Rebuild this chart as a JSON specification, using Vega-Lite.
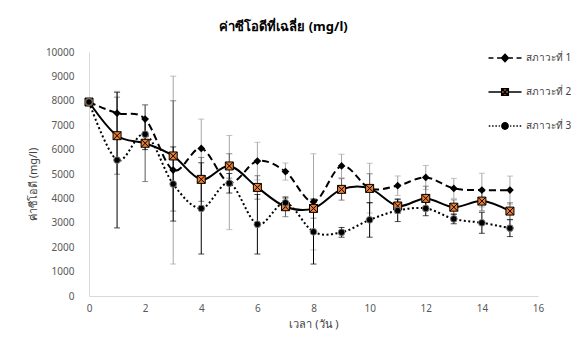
{
  "$schema": "https://vega.github.io/schema/vega-lite/v6.json",
  "width": 449,
  "height": 244,
  "autosize": {"type": "none"},
  "padding": {"left": 89, "top": 52, "right": 39, "bottom": 59},
  "title": {"text": "ค่าซีโอดีที่เฉลี่ย (mg/l)", "fontSize": 13, "fontWeight": "bold", "color": "#000000", "anchor": "middle", "dx": -30, "offset": 8},
  "config": {
    "font": "Noto Sans, DejaVu Sans, sans-serif",
    "view": {"stroke": null},
    "axis": {"grid": false, "ticks": false, "domainColor": "#d9d9d9", "domainWidth": 1, "labelColor": "#595959", "labelFontSize": 10, "labelFlush": false, "labelOverlap": false, "titleColor": "#404040", "titleFontSize": 11, "titleFontWeight": "normal"},
    "axisX": {"labelPadding": 7, "titleY": 28, "titleBaseline": "middle"},
    "axisY": {"labelPadding": 15, "titleX": -56, "titleY": 132, "titleBaseline": "middle", "titleAngle": -90, "titleAlign": "center", "format": "d"}
  },
  "datasets": {"d": [
    {"x": 0, "s": "สภาวะที่ 1", "y": 7950, "lo": 7950, "hi": 7950},
    {"x": 1, "s": "สภาวะที่ 1", "y": 7490, "lo": 6590, "hi": 8390},
    {"x": 2, "s": "สภาวะที่ 1", "y": 7250, "lo": 6660, "hi": 7840},
    {"x": 3, "s": "สภาวะที่ 1", "y": 5160, "lo": 1310, "hi": 9010},
    {"x": 4, "s": "สภาวะที่ 1", "y": 6050, "lo": 4850, "hi": 7250},
    {"x": 5, "s": "สภาวะที่ 1", "y": 4650, "lo": 2720, "hi": 6580},
    {"x": 6, "s": "สภาวะที่ 1", "y": 5530, "lo": 4760, "hi": 6300},
    {"x": 7, "s": "สภาวะที่ 1", "y": 5100, "lo": 4750, "hi": 5450},
    {"x": 8, "s": "สภาวะที่ 1", "y": 3860, "lo": 1890, "hi": 5830},
    {"x": 9, "s": "สภาวะที่ 1", "y": 5330, "lo": 4850, "hi": 5810},
    {"x": 10, "s": "สภาวะที่ 1", "y": 4420, "lo": 3400, "hi": 5440},
    {"x": 11, "s": "สภาวะที่ 1", "y": 4520, "lo": 4120, "hi": 4920},
    {"x": 12, "s": "สภาวะที่ 1", "y": 4860, "lo": 4370, "hi": 5350},
    {"x": 13, "s": "สภาวะที่ 1", "y": 4410, "lo": 4000, "hi": 4820},
    {"x": 14, "s": "สภาวะที่ 1", "y": 4340, "lo": 3650, "hi": 5030},
    {"x": 15, "s": "สภาวะที่ 1", "y": 4340, "lo": 3765, "hi": 4915},
    {"x": 0, "s": "สภาวะที่ 2", "y": 7950, "lo": 7950, "hi": 7950},
    {"x": 1, "s": "สภาวะที่ 2", "y": 6570, "lo": 4990, "hi": 8150},
    {"x": 2, "s": "สภาวะที่ 2", "y": 6260, "lo": 4690, "hi": 7830},
    {"x": 3, "s": "สภาวะที่ 2", "y": 5740, "lo": 3480, "hi": 8000},
    {"x": 4, "s": "สภาวะที่ 2", "y": 4780, "lo": 3880, "hi": 5680},
    {"x": 5, "s": "สภาวะที่ 2", "y": 5330, "lo": 4830, "hi": 5830},
    {"x": 6, "s": "สภาวะที่ 2", "y": 4450, "lo": 3970, "hi": 4930},
    {"x": 7, "s": "สภาวะที่ 2", "y": 3660, "lo": 3250, "hi": 4070},
    {"x": 8, "s": "สภาวะที่ 2", "y": 3590, "lo": 3190, "hi": 3990},
    {"x": 9, "s": "สภาวะที่ 2", "y": 4370, "lo": 3930, "hi": 4810},
    {"x": 10, "s": "สภาวะที่ 2", "y": 4410, "lo": 3810, "hi": 5010},
    {"x": 11, "s": "สภาวะที่ 2", "y": 3690, "lo": 3390, "hi": 3990},
    {"x": 12, "s": "สภาวะที่ 2", "y": 4000, "lo": 3500, "hi": 4500},
    {"x": 13, "s": "สภาวะที่ 2", "y": 3640, "lo": 3340, "hi": 3940},
    {"x": 14, "s": "สภาวะที่ 2", "y": 3890, "lo": 3490, "hi": 4290},
    {"x": 15, "s": "สภาวะที่ 2", "y": 3480, "lo": 3140, "hi": 3820},
    {"x": 0, "s": "สภาวะที่ 3", "y": 7950, "lo": 7950, "hi": 7950},
    {"x": 1, "s": "สภาวะที่ 3", "y": 5570, "lo": 2790, "hi": 8350},
    {"x": 2, "s": "สภาวะที่ 3", "y": 6630, "lo": 6000, "hi": 7260},
    {"x": 3, "s": "สภาวะที่ 3", "y": 4590, "lo": 3070, "hi": 6110},
    {"x": 4, "s": "สภาวะที่ 3", "y": 3590, "lo": 1720, "hi": 5460},
    {"x": 5, "s": "สภาวะที่ 3", "y": 4620, "lo": 4220, "hi": 5020},
    {"x": 6, "s": "สภาวะที่ 3", "y": 2940, "lo": 1720, "hi": 4160},
    {"x": 7, "s": "สภาวะที่ 3", "y": 3820, "lo": 3620, "hi": 4020},
    {"x": 8, "s": "สภาวะที่ 3", "y": 2630, "lo": 1310, "hi": 3950},
    {"x": 9, "s": "สภาวะที่ 3", "y": 2610, "lo": 2410, "hi": 2810},
    {"x": 10, "s": "สภาวะที่ 3", "y": 3120, "lo": 2410, "hi": 3830},
    {"x": 11, "s": "สภาวะที่ 3", "y": 3500, "lo": 3050, "hi": 3950},
    {"x": 12, "s": "สภาวะที่ 3", "y": 3590, "lo": 3290, "hi": 3890},
    {"x": 13, "s": "สภาวะที่ 3", "y": 3160, "lo": 2960, "hi": 3360},
    {"x": 14, "s": "สภาวะที่ 3", "y": 3000, "lo": 2570, "hi": 3430},
    {"x": 15, "s": "สภาวะที่ 3", "y": 2780, "lo": 2435, "hi": 3125}
  ]},
  "data": {"name": "d"},
  "encoding": {
    "x": {"field": "x", "type": "quantitative", "scale": {"domain": [0, 16], "nice": false, "zero": false},
          "axis": {"title": "เวลา (วัน )", "values": [0, 2, 4, 6, 8, 10, 12, 14, 16]}},
    "y": {"field": "y", "type": "quantitative", "scale": {"domain": [0, 10000], "nice": false},
          "axis": {"title": "ค่าซีโอดี (mg/l)", "values": [0, 1000, 2000, 3000, 4000, 5000, 6000, 7000, 8000, 9000, 10000]}}
  },
  "layer": [
    {
      "transform": [{"filter": "datum.s === 'สภาวะที่ 1'"}],
      "mark": {"type": "errorbar", "ticks": {"size": 6}, "rule": {"strokeWidth": 1}, "color": "#a6a6a6"},
      "encoding": {"y": {"field": "lo", "type": "quantitative", "title": "ค่าซีโอดี (mg/l)"}, "y2": {"field": "hi"}}
    },
    {
      "transform": [{"filter": "datum.s === 'สภาวะที่ 2'"}],
      "mark": {"type": "errorbar", "ticks": {"size": 6}, "rule": {"strokeWidth": 1}, "color": "#595959"},
      "encoding": {"y": {"field": "lo", "type": "quantitative", "title": "ค่าซีโอดี (mg/l)"}, "y2": {"field": "hi"}}
    },
    {
      "transform": [{"filter": "datum.s === 'สภาวะที่ 3'"}],
      "mark": {"type": "errorbar", "ticks": {"size": 6}, "rule": {"strokeWidth": 1}, "color": "#000000"},
      "encoding": {"y": {"field": "lo", "type": "quantitative", "title": "ค่าซีโอดี (mg/l)"}, "y2": {"field": "hi"}}
    },
    {
      "transform": [{"filter": "datum.s === 'สภาวะที่ 1'"}],
      "mark": {"type": "line", "interpolate": "cardinal", "color": "#000000", "strokeWidth": 2, "strokeDash": [7, 4]},
      "encoding": {}
    },
    {
      "transform": [{"filter": "datum.s === 'สภาวะที่ 2'"}],
      "mark": {"type": "line", "interpolate": "cardinal", "color": "#000000", "strokeWidth": 2},
      "encoding": {}
    },
    {
      "transform": [{"filter": "datum.s === 'สภาวะที่ 3'"}],
      "mark": {"type": "line", "interpolate": "cardinal", "color": "#000000", "strokeWidth": 2, "strokeDash": [2, 2.5]},
      "encoding": {}
    },
    {
      "transform": [{"filter": "datum.s === 'สภาวะที่ 1'"}],
      "mark": {"type": "point", "shape": "diamond", "size": 60, "filled": true, "color": "#000000", "opacity": 1}
    },
    {
      "transform": [{"filter": "datum.s === 'สภาวะที่ 2'"}],
      "mark": {"type": "point", "shape": "M-1,-1L1,-1L1,1L-1,1Z M-1,-1L1,1 M1,-1L-1,1", "size": 64, "filled": true, "fill": "#ED7D31", "stroke": "#000000", "strokeWidth": 1, "opacity": 1}
    },
    {
      "transform": [{"filter": "datum.s === 'สภาวะที่ 3'"}],
      "mark": {"type": "point", "shape": "circle", "size": 45, "filled": true, "fill": "#000000", "stroke": "#808080", "strokeWidth": 1, "opacity": 1}
    },
    {
      "mark": {"type": "point", "size": 900, "filled": true, "stroke": "#000000", "strokeWidth": 1.5, "opacity": 0},
      "encoding": {
        "shape": {"field": "s", "type": "nominal", "scale": {"domain": ["สภาวะที่ 1", "สภาวะที่ 2", "สภาวะที่ 3"], "range": [
          "M-1.1,0L-0.77,0M-0.53,0L-0.27,0M0.27,0L0.53,0M0.77,0L1.1,0M0,-0.25L0.23,0L0,0.25L-0.23,0Z",
          "M-1.1,0L-0.22,0M0.22,0L1.1,0M-0.22,-0.22L0.22,-0.22L0.22,0.22L-0.22,0.22Z M-0.22,-0.22L0.22,0.22M0.22,-0.22L-0.22,0.22",
          "M-1.08,0L-0.98,0M-0.86,0L-0.76,0M-0.64,0L-0.54,0M-0.42,0L-0.34,0M0.34,0L0.42,0M0.54,0L0.64,0M0.76,0L0.86,0M0.98,0L1.08,0M0.21,0A0.21,0.21,0,1,1,-0.21,0A0.21,0.21,0,1,1,0.21,0Z"
        ]}, "legend": {"title": null, "orient": "none", "legendX": 400, "legendY": -10, "labelFontSize": 10, "labelColor": "#404040", "labelOffset": 5, "rowPadding": 11, "symbolSize": 900, "symbolStrokeColor": "#000000", "symbolStrokeWidth": 1.5, "symbolOpacity": 1, "encode": {"symbols": {"update": {"opacity": {"value": 1}, "stroke": {"value": "#000000"}, "strokeWidth": {"value": 1.5}}}}}},
        "fill": {"field": "s", "type": "nominal", "scale": {"domain": ["สภาวะที่ 1", "สภาวะที่ 2", "สภาวะที่ 3"], "range": ["#000000", "#ED7D31", "#000000"]}, "legend": {"title": null, "orient": "none", "legendX": 400, "legendY": -10, "labelFontSize": 10, "labelColor": "#404040", "labelOffset": 5, "rowPadding": 11, "symbolSize": 900, "symbolStrokeColor": "#000000", "symbolStrokeWidth": 1.5, "symbolOpacity": 1, "encode": {"symbols": {"update": {"opacity": {"value": 1}, "stroke": {"value": "#000000"}, "strokeWidth": {"value": 1.5}}}}}}
      }
    }
  ]
}
